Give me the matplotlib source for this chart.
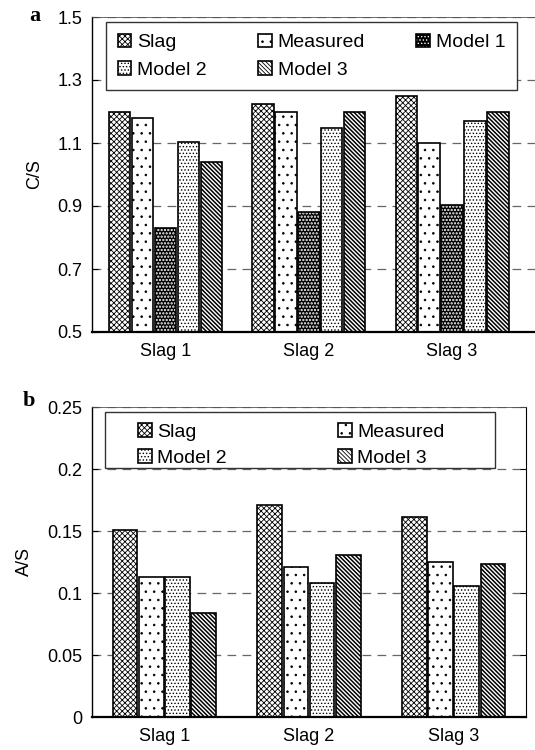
import numpy as np
import matplotlib
matplotlib.use("Agg")
import matplotlib.pyplot as plt
from matplotlib.patches import Patch, Rectangle

plt.rcParams['font.family'] = ['Liberation Sans', 'DejaVu Sans']
plt.rcParams['hatch.linewidth'] = 0.6

groups = ['Slag 1', 'Slag 2', 'Slag 3']

# panel a: C/S
cs_slag = [1.20, 1.224, 1.249]
cs_measured = [1.18, 1.198, 1.101]
cs_model1 = [0.83, 0.88, 0.903]
cs_model2 = [1.104, 1.148, 1.171]
cs_model3 = [1.04, 1.20, 1.20]

# panel b: A/S
as_slag = [0.151, 0.171, 0.161]
as_measured = [0.113, 0.121, 0.125]
as_model2 = [0.113, 0.108, 0.106]
as_model3 = [0.084, 0.131, 0.123]

styles = {
    'Slag': dict(facecolor='white', edgecolor='black', hatch='x' * 6),
    'Measured': dict(facecolor='white', edgecolor='black', hatch='..'),
    'Model 2': dict(facecolor='white', edgecolor='black', hatch='.....'),
    'Model 3': dict(facecolor='white', edgecolor='black', hatch='\\' * 8),
}
# heavier hatch strokes for the striped and the black bars
hatch_lw = {'Model 1': 1.1, 'Model 3': 1.1}
edge_lw = 1.2
grid_ls = (0, (7, 5))


def draw_bar(ax, x, h, w, name):
    with plt.rc_context({'hatch.linewidth': hatch_lw.get(name, 0.6)}):
        if name == 'Model 1':
            ax.bar(x, h, w, facecolor='black', edgecolor='white', hatch='.....', linewidth=0)
            ax.bar(x, h, w, fill=False, edgecolor='black', linewidth=edge_lw)
        else:
            ax.bar(x, h, w, linewidth=edge_lw, **styles[name])


def legend_handle(name):
    with plt.rc_context({'hatch.linewidth': hatch_lw.get(name, 0.6)}):
        if name == 'Model 1':
            return (Patch(facecolor='black', edgecolor='white', hatch='.....', linewidth=0),
                    Patch(fill=False, edgecolor='black', linewidth=edge_lw))
        return Patch(linewidth=edge_lw, **styles[name])


def style_axis(ax):
    ax.tick_params(axis='y', direction='in', length=4, labelsize=13, pad=7,
                   right=True)
    ax.tick_params(axis='x', length=0, labelsize=13, pad=8)
    ax.yaxis.grid(True, linestyle=grid_ls, color='#666666', linewidth=0.9)
    ax.set_axisbelow(True)
    ax.spines['bottom'].set_linewidth(1.6)
    ax.spines['left'].set_linewidth(1.0)
    ax.spines['top'].set_linewidth(0.6)
    ax.spines['top'].set_color('#555555')
    ax.spines['right'].set_linewidth(0.8)


fig = plt.figure(figsize=(5.35, 7.5), dpi=100)

# ---- panel a
ax1 = fig.add_axes([92 / 535, 1 - 332 / 750, 453 / 535, 315 / 750])
x = np.arange(1, 4)
series_a = [('Slag', cs_slag), ('Measured', cs_measured), ('Model 1', cs_model1),
            ('Model 2', cs_model2), ('Model 3', cs_model3)]
step_a = 0.16
for i, (name, vals) in enumerate(series_a):
    draw_bar(ax1, x + (i - 2) * step_a, vals, 0.15, name)
ax1.set_ylim(0.5, 1.5)
ax1.set_yticks([0.5, 0.7, 0.9, 1.1, 1.3, 1.5])
ax1.set_xlim(0.487, 0.487 + 453 / 143.3)
ax1.set_xticks(x)
ax1.set_xticklabels(groups)
ax1.set_ylabel('C/S', fontsize=13, labelpad=10)
style_axis(ax1)
order_a = ['Slag', 'Model 2', 'Measured', 'Model 3', 'Model 1']
leg1 = ax1.legend([legend_handle(n) for n in order_a], order_a, ncol=3,
                  loc='upper left', bbox_to_anchor=(0.031, 0.784, 0.907, 0.2),
                  mode='expand', borderaxespad=0, fontsize=14, frameon=True,
                  fancybox=False, framealpha=1, edgecolor='#333333',
                  handlelength=0.7, handleheight=0.7, handletextpad=0.3,
                  labelspacing=0.5, borderpad=0.6)
leg1.get_frame().set_linewidth(1.0)

# ---- panel b
ax2 = fig.add_axes([92 / 535, 1 - 717 / 750, 434 / 535, 310 / 750])
series_b = [('Slag', as_slag), ('Measured', as_measured),
            ('Model 2', as_model2), ('Model 3', as_model3)]
step_b = 0.181
for i, (name, vals) in enumerate(series_b):
    draw_bar(ax2, x + (i - 1.5) * step_b, vals, 0.17, name)
ax2.set_ylim(0, 0.25)
ax2.set_yticks([0, 0.05, 0.1, 0.15, 0.2, 0.25])
ax2.set_yticklabels(['0', '0.05', '0.1', '0.15', '0.2', '0.25'])
ax2.set_xlim(0.5, 3.5)
ax2.set_xticks(x)
ax2.set_xticklabels(groups)
ax2.set_ylabel('A/S', fontsize=13, labelpad=10)
style_axis(ax2)

# legend box for b drawn separately so the entries can sit inside it freely
box_b = Rectangle((13 / 434, 1 - 61 / 310), 390 / 434, 56 / 310,
                  transform=ax2.transAxes, facecolor='white', edgecolor='#333333',
                  linewidth=1.0, zorder=4)
ax2.add_patch(box_b)
order_b = ['Slag', 'Model 2', 'Measured', 'Model 3']
leg2 = ax2.legend([legend_handle(n) for n in order_b], order_b, ncol=2,
                  loc='upper left', bbox_to_anchor=(46 / 434, 1 - 16 / 310),
                  borderaxespad=0, fontsize=14, frameon=False,
                  handlelength=0.7, handleheight=0.7, handletextpad=0.3,
                  labelspacing=0.45, borderpad=0, columnspacing=5.7)
leg2.set_zorder(5)

fig.text(29 / 535, 1 - 16 / 750, 'a', fontsize=16, fontweight='bold',
         family='Liberation Serif', ha='left', va='center')
fig.text(23 / 535, 1 - 401 / 750, 'b', fontsize=16, fontweight='bold',
         family='Liberation Serif', ha='left', va='center')

fig.savefig('out.png', dpi=100)
